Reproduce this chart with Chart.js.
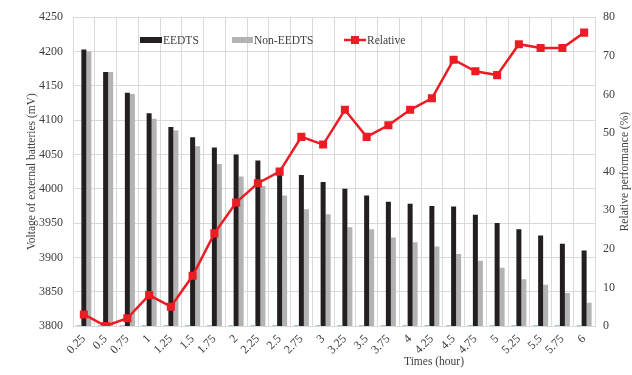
<!DOCTYPE html>
<html>
<head>
<meta charset="utf-8">
<script src="https://cdn.jsdelivr.net/npm/chart.js@4"></script>
<style>
  html, body { margin: 0; padding: 0; background: #ffffff; }
  #wrap { width: 632px; height: 375px; position: relative; }
</style>
</head>
<body>
<div id="wrap"><canvas id="c" width="632" height="375"></canvas></div>
<script>
// Sampling times (hour)
const times = ['0.25','0.5','0.75','1','1.25','1.5','1.75','2','2.25','2.5','2.75','3',
               '3.25','3.5','3.75','4','4.25','4.5','4.75','5','5.25','5.5','5.75','6'];

// Battery voltage (mV) with and without EEDTS
const eedts = [4203,4170,4140,4110,4090,4075,4060,4050,4041,4024,4020,4010,
               4000,3990,3981,3978,3975,3974,3962,3950,3941,3932,3920,3910];
const nonEedts = [4200,4170,4138,4102,4085,4062,4036,4018,4004,3990,3970,3963,
                  3944,3941,3929,3922,3916,3905,3895,3885,3868,3860,3848,3834];

// Relative performance (%)
const relative = [3,0,2,8,5,13,24,32,37,40,49,47,56,49,52,56,59,69,66,65,73,72,72,76];

// Thin baseline marks of the third bar series (mV)
const baseMarks = [3801.5,3801.5,3801.5,3801.5,3801.5,3801.5,3801.5,3801.5,3801.5,3801.5,3801.5,3801.5,
                   3801.5,3801.5,3801.5,3801.5,3801.5,3801.5,3801.5,3801.5,3801.5,3801.5,3801.5,3801.5];

// Axis ranges and tick steps
const voltRange = [3800, 4250, 50];
const relRange = [0, 80, 10];

const SERIF = "'Liberation Serif', 'Times New Roman', serif";
const TEXT = '#404040';
const GRID = '#d9d9d9';
const RED = '#ec1c24';
const BLACK = '#231f20';
const GREY = '#b3b3b3';

// Legend and axis titles drawn onto the canvas
const overlay = {
  id: 'overlay',
  afterDraw(chart) {
    const ctx = chart.ctx;
    const a = chart.chartArea;
    ctx.save();
    ctx.fillStyle = TEXT;
    ctx.textBaseline = 'middle';
    ctx.font = '11.5px ' + SERIF;

    // legend
    const ly = 40;
    ctx.fillStyle = BLACK;
    ctx.fillRect(140, ly - 3, 22, 6);
    ctx.fillStyle = TEXT;
    ctx.textAlign = 'left';
    ctx.fillText('EEDTS', 163, ly + 0.5);

    ctx.fillStyle = GREY;
    ctx.fillRect(232, ly - 3, 21, 6);
    ctx.fillStyle = TEXT;
    ctx.fillText('Non-EEDTS', 254, ly + 0.5);

    ctx.strokeStyle = RED;
    ctx.lineWidth = 2.5;
    ctx.beginPath();
    ctx.moveTo(344, ly);
    ctx.lineTo(366, ly);
    ctx.stroke();
    ctx.fillStyle = RED;
    ctx.fillRect(351, ly - 4, 8, 8);
    ctx.fillStyle = TEXT;
    ctx.fillText('Relative', 367, ly + 0.5);

    // axis titles
    ctx.font = '11.5px ' + SERIF;
    ctx.textAlign = 'center';
    ctx.fillText('Times (hour)', 434, 362);

    const midY = (a.top + a.bottom) / 2;
    ctx.save();
    ctx.translate(32, midY);
    ctx.rotate(-Math.PI / 2);
    ctx.fillText('Voltage of external batteries (mV)', 0, 0);
    ctx.restore();

    ctx.save();
    ctx.translate(625, midY);
    ctx.rotate(-Math.PI / 2);
    ctx.fillText('Relative performance (%)', 0, 0);
    ctx.restore();

    ctx.restore();
  }
};

const plain = v => String(v);

new Chart(document.getElementById('c'), {
  data: {
    labels: times,
    datasets: [
      {
        type: 'line',
        label: 'Relative',
        data: relative,
        yAxisID: 'y1',
        borderColor: RED,
        backgroundColor: RED,
        borderWidth: 2.5,
        pointStyle: 'rect',
        pointRadius: 5.7,
        pointBorderWidth: 0,
        tension: 0,
        order: 0
      },
      {
        type: 'bar',
        label: 'Base',
        data: baseMarks,
        yAxisID: 'y',
        backgroundColor: '#9dc3e6',
        categoryPercentage: 0.69,
        barPercentage: 1,
        order: 1
      },
      {
        type: 'bar',
        label: 'EEDTS',
        data: eedts,
        yAxisID: 'y',
        backgroundColor: BLACK,
        categoryPercentage: 0.69,
        barPercentage: 1,
        order: 1
      },
      {
        type: 'bar',
        label: 'Non-EEDTS',
        data: nonEedts,
        yAxisID: 'y',
        backgroundColor: GREY,
        categoryPercentage: 0.69,
        barPercentage: 1,
        order: 1
      }
    ]
  },
  options: {
    responsive: false,
    animation: false,
    layout: { padding: { top: 15, left: 0, right: 0, bottom: 0 } },
    plugins: {
      legend: { display: false },
      tooltip: { enabled: false }
    },
    scales: {
      x: {
        offset: true,
        grid: { color: GRID, lineWidth: 1, offset: true, drawTicks: false },
        border: { color: GRID },
        ticks: {
          color: TEXT,
          font: { family: SERIF, size: 12 },
          autoSkip: false,
          minRotation: 45,
          maxRotation: 45,
          padding: 6
        },
        afterFit(s) { s.height = 49; }
      },
      y: {
        position: 'left',
        min: voltRange[0],
        max: voltRange[1],
        grid: { color: GRID, lineWidth: 1, drawTicks: false },
        border: { color: GRID },
        ticks: {
          stepSize: voltRange[2],
          color: TEXT,
          font: { family: SERIF, size: 12 },
          padding: 10,
          callback: plain
        },
        afterFit(s) { s.width = 73; }
      },
      y1: {
        position: 'right',
        min: relRange[0],
        max: relRange[1],
        grid: { display: false, drawTicks: false },
        border: { color: GRID },
        ticks: {
          stepSize: relRange[2],
          color: TEXT,
          font: { family: SERIF, size: 12 },
          padding: 8,
          callback: plain
        },
        afterFit(s) { s.width = 37; }
      }
    }
  },
  plugins: [overlay]
});
</script>
</body>
</html>
